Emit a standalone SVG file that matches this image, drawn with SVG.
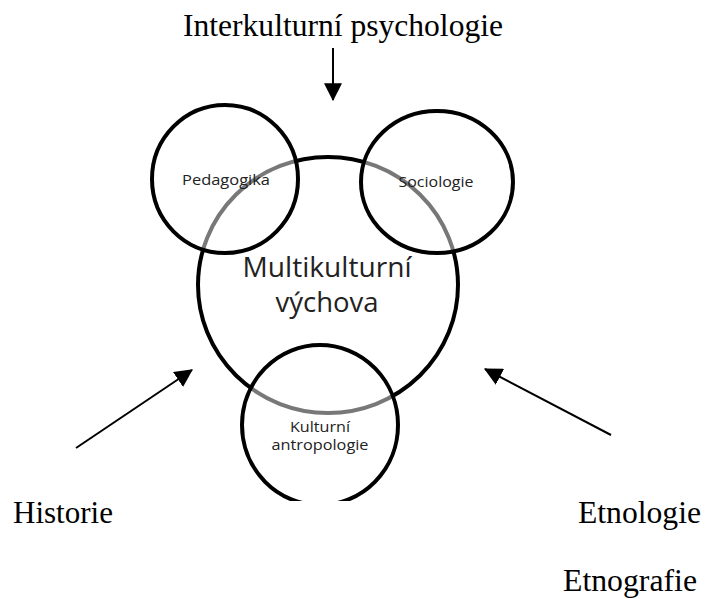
<svg xmlns="http://www.w3.org/2000/svg" width="705" height="599" viewBox="0 0 705 599">
<style>
.ring{fill:#ffffff;fill-opacity:0.47;stroke:#000;stroke-width:4}
.main{fill:none;stroke:#000;stroke-width:4}
.lbl{font-family:"Open Sans","Liberation Sans",sans-serif;fill:#222;text-anchor:middle}
.ext{font-family:"Liberation Serif","Times New Roman",serif;font-size:31px;fill:#000}
.arr{stroke:#000;stroke-width:2;fill:none;marker-end:url(#ah)}
</style>
<defs>
<marker id="ah" markerUnits="userSpaceOnUse" markerWidth="18" markerHeight="18" viewBox="0 0 16 16" refX="15" refY="8" orient="auto">
<path d="M0,0 L16,8 L0,16 Z" fill="#000"/>
</marker>
<clipPath id="cut"><rect x="0" y="0" width="705" height="501"/></clipPath>
</defs>
<rect width="705" height="599" fill="#fff"/>
<g id="multikulturni">
<ellipse class="main" cx="328" cy="285" rx="130" ry="128"/>
<text class="lbl" x="327" y="277" font-size="27" textLength="169" lengthAdjust="spacingAndGlyphs">Multikulturní</text>
<text class="lbl" x="327" y="312" font-size="27" textLength="103" lengthAdjust="spacingAndGlyphs">výchova</text>
</g>
<g id="pedagogika">
<ellipse class="ring" cx="225" cy="179" rx="73" ry="74"/>
<text class="lbl" x="226" y="185" font-size="14" textLength="88" lengthAdjust="spacingAndGlyphs">Pedagogika</text>
</g>
<g id="sociologie">
<ellipse class="ring" cx="437" cy="182" rx="76" ry="71"/>
<text class="lbl" x="436" y="187" font-size="14" textLength="75" lengthAdjust="spacingAndGlyphs">Sociologie</text>
</g>
<g id="antropologie">
<ellipse class="ring" cx="320" cy="425" rx="78" ry="80" clip-path="url(#cut)"/>
<text class="lbl" x="320" y="432" font-size="14" textLength="60" lengthAdjust="spacingAndGlyphs">Kulturní</text>
<text class="lbl" x="320" y="450" font-size="14" textLength="97" lengthAdjust="spacingAndGlyphs">antropologie</text>
</g>
<g id="interkulturni">
<text class="ext" x="183" y="36" textLength="320" lengthAdjust="spacingAndGlyphs">Interkulturní psychologie</text>
</g>
<g id="historie">
<text class="ext" x="13" y="523" textLength="100" lengthAdjust="spacingAndGlyphs">Historie</text>
</g>
<g id="etnologie">
<text class="ext" x="578" y="523" textLength="123" lengthAdjust="spacingAndGlyphs">Etnologie</text>
</g>
<g id="etnografie">
<text class="ext" x="563" y="591" textLength="134" lengthAdjust="spacingAndGlyphs">Etnografie</text>
</g>
<g id="connectors">
<line class="arr" x1="333" y1="48" x2="333" y2="100"/>
<line class="arr" x1="76" y1="448" x2="192" y2="370"/>
<line class="arr" x1="611" y1="435" x2="485" y2="369"/>
</g>
</svg>
